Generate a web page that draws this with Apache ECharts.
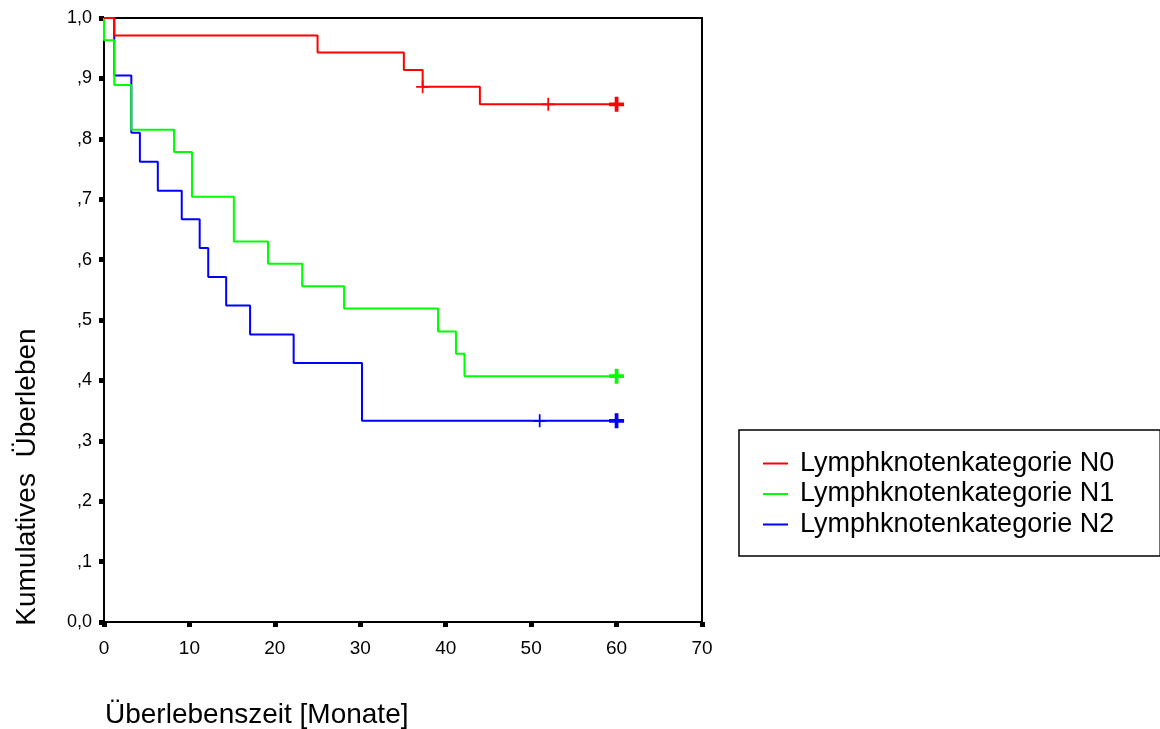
<!DOCTYPE html>
<html>
<head>
<meta charset="utf-8">
<script src="https://cdn.jsdelivr.net/npm/echarts@6/dist/echarts.min.js"></script>
<style>
  html, body { margin: 0; padding: 0; background: #fff; }
  #chart { width: 1160px; height: 729px; }
</style>
</head>
<body>
<div id="chart"></div>
<script>
// ---- data ----
const seriesNames = ['Lymphknotenkategorie N0', 'Lymphknotenkategorie N1', 'Lymphknotenkategorie N2'];

const n0Times  = [0, 1.2, 25, 35.1, 37.3, 44, 60];
const n0Values = [1, 0.971, 0.943, 0.914, 0.886, 0.857, 0.857];
const n0CensorTimes  = [37.3, 52, 60];
const n0CensorValues = [0.886, 0.857, 0.857];
const n0CensorCounts = [1, 1, 3];

const n1Times  = [0, 0, 1.2, 3.2, 8.2, 10.3, 15.2, 19.2, 23.2, 28.1, 39.1, 41.2, 42.2, 60];
const n1Values = [1, 0.963, 0.889, 0.815, 0.778, 0.704, 0.630, 0.593, 0.556, 0.519, 0.481, 0.444, 0.407, 0.407];
const n1CensorTimes  = [60];
const n1CensorValues = [0.407];
const n1CensorCounts = [3];

const n2Times  = [0, 1.2, 3.2, 4.2, 6.3, 9.1, 11.2, 12.2, 14.3, 17.1, 22.2, 30.2, 60];
const n2Values = [1, 0.905, 0.810, 0.762, 0.714, 0.667, 0.619, 0.571, 0.524, 0.476, 0.429, 0.333, 0.333];
const n2CensorTimes  = [51, 60];
const n2CensorValues = [0.333, 0.333];
const n2CensorCounts = [1, 3];

const yTickLabels = ['0,0', ',1', ',2', ',3', ',4', ',5', ',6', ',7', ',8', ',9', '1,0'];
const xTitle = 'Überlebenszeit [Monate]';
const yTitle = 'Kumulatives  Überleben';

// ---- styles ----
const colors = ['#ff0000', '#00ff00', '#0000ff'];
const FONT = '"Liberation Sans", Arial, sans-serif';
const plusThin  = 'path://M5.2,0H6.8V5.2H12V6.8H6.8V12H5.2V6.8H0V5.2H5.2Z';
const plusThick = 'path://M5.25,0H8.75V5.25H14V8.75H8.75V14H5.25V8.75H0V5.25H5.25Z';

function pairs(xs, ys) { return xs.map((x, i) => [x, ys[i]]); }
function censorData(xs, ys, counts) {
  return xs.map((x, i) => ({
    value: [x, ys[i]],
    symbol: counts[i] > 1 ? plusThick : plusThin,
    symbolSize: counts[i] > 1 ? 15 : 13
  }));
}

const lines = [
  { t: n0Times, v: n0Values, ct: n0CensorTimes, cv: n0CensorValues, cc: n0CensorCounts, z: 6 },
  { t: n1Times, v: n1Values, ct: n1CensorTimes, cv: n1CensorValues, cc: n1CensorCounts, z: 5 },
  { t: n2Times, v: n2Values, ct: n2CensorTimes, cv: n2CensorValues, cc: n2CensorCounts, z: 4 }
];

const series = [];
lines.forEach((l, i) => {
  series.push({
    name: seriesNames[i],
    type: 'line',
    step: 'end',
    showSymbol: false,
    symbol: 'none',
    z: l.z,
    lineStyle: { color: colors[i], width: 2 },
    itemStyle: { color: colors[i] },
    data: pairs(l.t, l.v),
    animation: false
  });
});
lines.forEach((l, i) => {
  series.push({
    name: seriesNames[i] + ' zensiert',
    type: 'scatter',
    z: l.z + 3,
    itemStyle: { color: colors[i], opacity: 1 },
    data: censorData(l.ct, l.cv, l.cc),
    animation: false
  });
});

const chart = echarts.init(document.getElementById('chart'), null, { renderer: 'canvas' });
chart.setOption({
  backgroundColor: '#ffffff',
  animation: false,
  grid: {
    left: 104, top: 18, width: 598, height: 604,
    show: true, borderColor: '#000', borderWidth: 2, backgroundColor: 'transparent'
  },
  xAxis: {
    type: 'value', min: 0, max: 70, interval: 10,
    axisLine: { show: true, onZero: false, lineStyle: { color: '#000', width: 2 } },
    axisTick: { show: true, length: 5, lineStyle: { color: '#000', width: 5 } },
    axisLabel: { color: '#000', fontSize: 19, fontFamily: FONT, margin: 17 },
    splitLine: { show: false }
  },
  yAxis: {
    type: 'value', min: 0, max: 1, interval: 0.1,
    axisLine: { show: true, onZero: false, lineStyle: { color: '#000', width: 2 } },
    axisTick: { show: true, length: 5, lineStyle: { color: '#000', width: 5 } },
    axisLabel: {
      color: '#000', fontSize: 18, fontFamily: FONT, margin: 12,
      formatter: v => yTickLabels[Math.round(v * 10)]
    },
    splitLine: { show: false }
  },
  legend: {
    orient: 'vertical',
    left: 739, top: 430,
    padding: [20, 46, 18, 24],
    borderColor: '#000', borderWidth: 1.5,
    itemWidth: 25, itemHeight: 2, itemGap: 3.5,
    icon: 'rect',
    selectedMode: false,
    data: seriesNames,
    textStyle: { color: '#000', fontSize: 27, fontFamily: FONT, padding: [0, 0, 0, 7] }
  },
  graphic: [
    {
      type: 'text', left: 105, top: 701,
      style: { text: xTitle, fill: '#000', fontSize: 28, fontFamily: FONT }
    },
    {
      type: 'text', x: 27, y: 477, rotation: Math.PI / 2,
      style: { text: yTitle, fill: '#000', fontSize: 28, fontFamily: FONT, align: 'center', verticalAlign: 'middle' }
    }
  ],
  series: series
});
</script>
</body>
</html>
